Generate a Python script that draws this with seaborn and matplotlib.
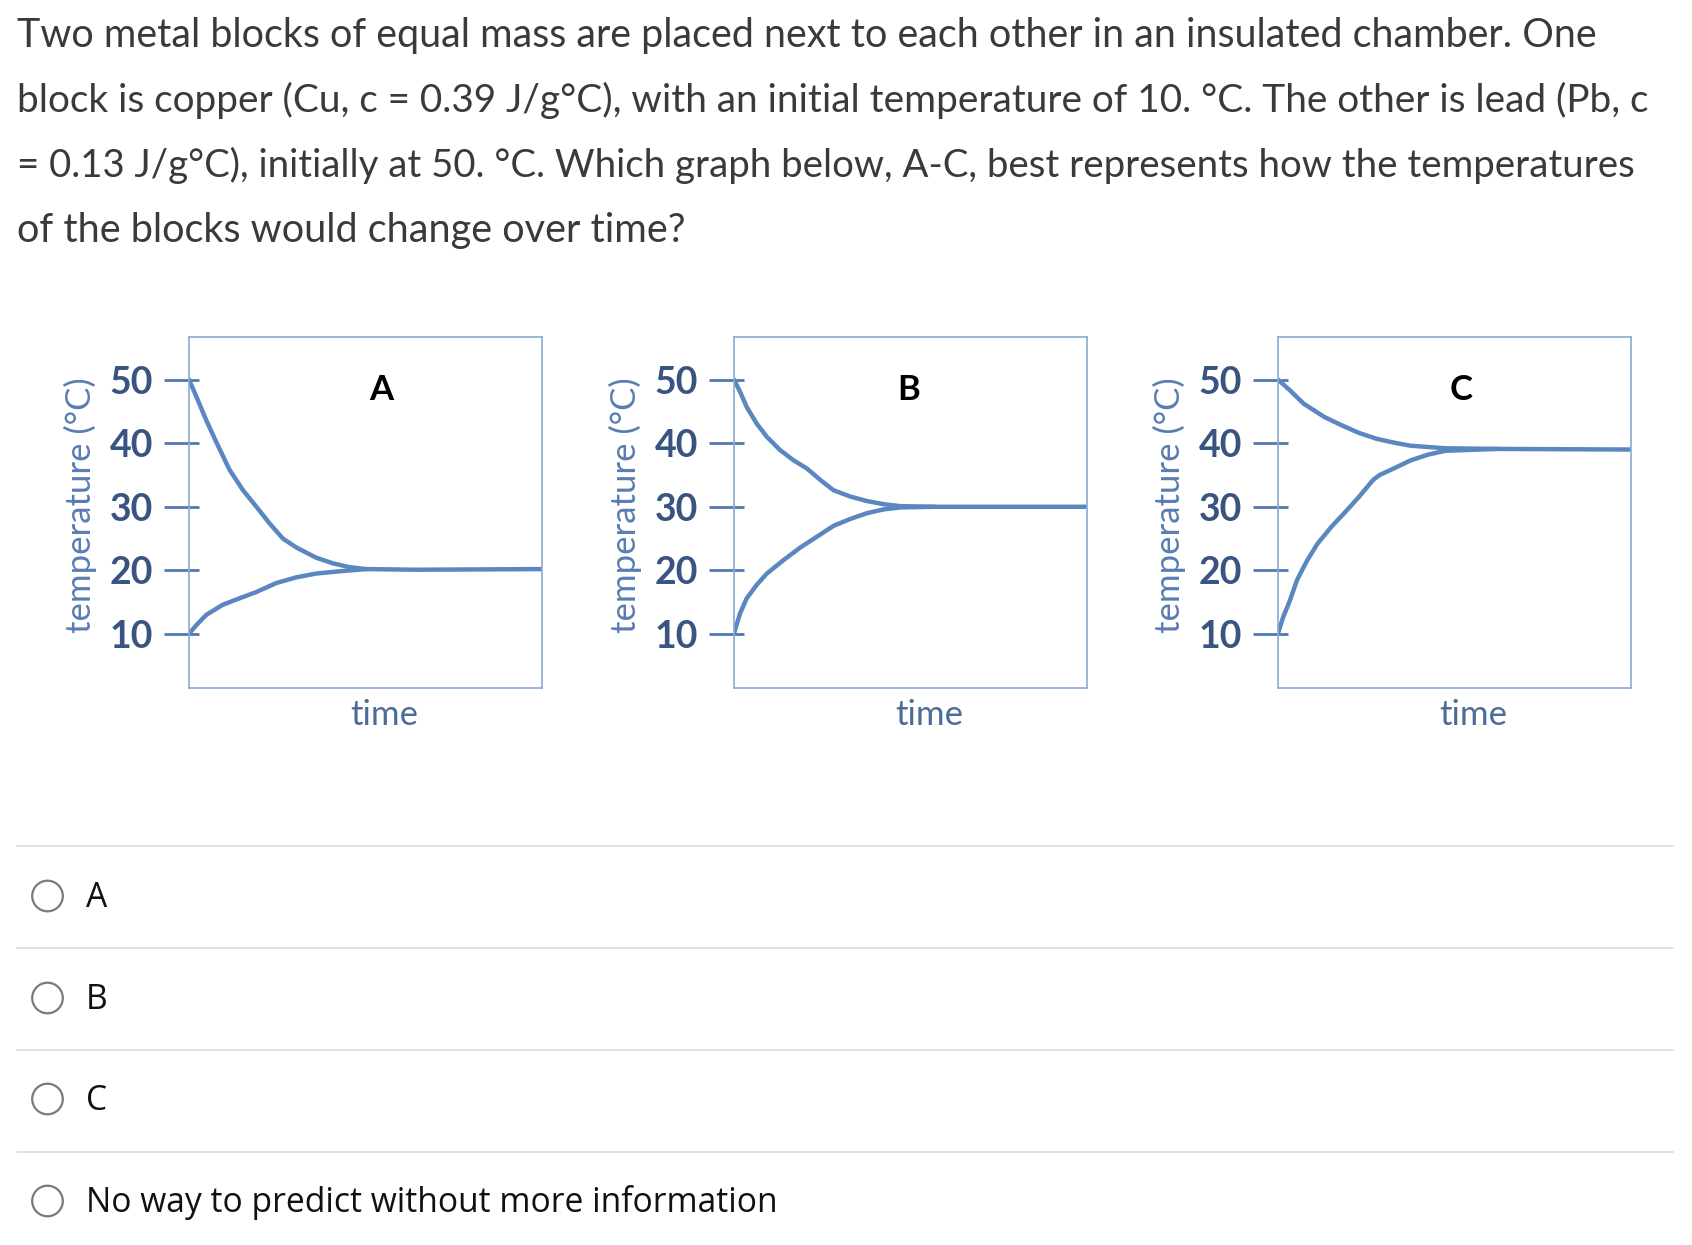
import numpy as np
import pandas as pd
import matplotlib
matplotlib.use("Agg")
import matplotlib.pyplot as plt
from matplotlib.patches import Circle
from matplotlib.ticker import FixedLocator
import seaborn as sns

# ---------------- data ----------------
question_lines = [
    "Two metal blocks of equal mass are placed next to each other in an insulated chamber. One",
    "block is copper (Cu, c = 0.39 J/g°C), with an initial temperature of 10. °C. The other is lead (Pb, c",
    "= 0.13 J/g°C), initially at 50. °C. Which graph below, A-C, best represents how the temperatures",
    "of the blocks would change over time?",
]
panel_labels = ["A", "B", "C"]
y_ticks = [10, 20, 30, 40, 50]
y_label = "temperature (°C)"
x_label = "time"
options = ["A", "B", "C", "No way to predict without more information"]

a_hot_t = [0, 0.021, 0.049, 0.077, 0.115, 0.153, 0.191, 0.228, 0.266, 0.304, 0.360, 0.408, 0.455, 0.502, 0.643, 1.0]
a_hot_y = [50, 47.3, 43.6, 40.2, 35.8, 32.6, 30.0, 27.4, 25.0, 23.6, 22.0, 21.1, 20.5, 20.2, 20.1, 20.2]
a_cold_t = [0, 0.021, 0.049, 0.096, 0.143, 0.191, 0.247, 0.304, 0.360, 0.436, 0.502]
a_cold_y = [10, 11.4, 13.0, 14.6, 15.6, 16.6, 18.0, 18.9, 19.5, 19.9, 20.2]

b_hot_t = [0, 0.017, 0.036, 0.064, 0.093, 0.131, 0.169, 0.207, 0.245, 0.282, 0.330, 0.377, 0.425, 0.472, 0.567, 1.0]
b_hot_y = [50, 48.1, 45.7, 43.1, 41.0, 38.9, 37.3, 36.0, 34.2, 32.6, 31.6, 30.9, 30.4, 30.1, 30.0, 30.0]
b_cold_t = [0, 0.017, 0.036, 0.064, 0.093, 0.140, 0.188, 0.235, 0.282, 0.330, 0.377, 0.425, 0.472, 0.567]
b_cold_y = [10.1, 13.2, 15.6, 17.7, 19.5, 21.6, 23.6, 25.3, 27.0, 28.1, 29.0, 29.6, 29.9, 30.0]

c_hot_t = [0, 0.034, 0.073, 0.132, 0.181, 0.230, 0.279, 0.327, 0.376, 0.425, 0.474, 0.621, 1.0]
c_hot_y = [50, 48.3, 46.2, 44.1, 42.8, 41.6, 40.7, 40.1, 39.6, 39.4, 39.2, 39.1, 39.0]
c_cold_t = [0, 0.015, 0.034, 0.054, 0.083, 0.112, 0.152, 0.191, 0.230, 0.269, 0.288, 0.327, 0.376, 0.425, 0.474, 0.621]
c_cold_y = [10.1, 12.7, 15.3, 18.5, 21.6, 24.2, 26.9, 29.2, 31.6, 34.2, 35.0, 36.0, 37.3, 38.2, 38.8, 39.1]

panels = [
    (a_hot_t, a_hot_y, a_cold_t, a_cold_y),
    (b_hot_t, b_hot_y, b_cold_t, b_cold_y),
    (c_hot_t, c_hot_y, c_cold_t, c_cold_y),
]

# ---------------- style ----------------
sns.set_style("white")
plt.rcParams["font.family"] = ["Lato", "DejaVu Sans"]

W, H = 1692, 1245
fig = plt.figure(figsize=(W / 100, H / 100), dpi=100)
fig.patch.set_facecolor("white")

LINE_C = "#5b87c0"
SPINE_C = "#8aaad4"
TICK_C = "#5279b0"
TICKLAB_C = "#3a5482"
YLAB_C = "#5a7db2"
XLAB_C = "#4d6b97"

ax_lefts = [189, 734, 1278]
ax_w, ax_top, ax_bot = 353, 337, 688
letter_x = [0.544, 0.496, 0.52]

for i, (ht, hy, ct, cy) in enumerate(panels):
    ax = fig.add_axes([ax_lefts[i] / W, 1 - ax_bot / H, ax_w / W, (ax_bot - ax_top) / H])
    df = pd.concat([
        pd.DataFrame({"time": ht, "temp": hy, "block": "hot"}),
        pd.DataFrame({"time": ct, "temp": cy, "block": "cold"}),
    ])
    sns.lineplot(data=df, x="time", y="temp", hue="block",
                 palette={"hot": LINE_C, "cold": LINE_C},
                 estimator=None, sort=False, legend=False, lw=3.2, ax=ax,
                 solid_capstyle="round", solid_joinstyle="round")
    ax.set_xlim(0, 1)
    ax.set_ylim(1.5, 56.7)
    ax.set_xticks([])
    ax.set_yticks(y_ticks)
    ax.yaxis.set_minor_locator(FixedLocator(y_ticks))
    ax.yaxis.remove_overlapping_locs = False
    ax.tick_params(axis="y", which="major", left=True, direction="out", length=18, width=2.0,
                   color=TICK_C, labelcolor=TICKLAB_C, labelsize=27, pad=8)
    ax.tick_params(axis="y", which="minor", left=True, direction="in", length=7.2, width=2.0,
                   color=TICK_C, labelleft=False)
    for lab in ax.get_yticklabels():
        lab.set_fontweight("bold")
    for s in ax.spines.values():
        s.set_visible(True)
        s.set_color(SPINE_C)
        s.set_linewidth(1.2)
    ax.set_ylabel(y_label, fontsize=25, color=YLAB_C)
    ax.yaxis.label.set_verticalalignment("center")
    ax.yaxis.set_label_coords(-0.307, 0.521)
    ax.set_xlabel(x_label, fontsize=25, color=XLAB_C)
    ax.xaxis.set_label_coords(0.554, -0.03)
    ax.xaxis.label.set_verticalalignment("top")
    ax.text(letter_x[i], 0.85, panel_labels[i], transform=ax.transAxes,
            ha="center", va="center", fontsize=25, fontweight="bold", color="black")

# ---------------- question text ----------------
q_texts = []
baselines = [47, 112, 177, 242]
line_ends = [1600, 1649, 1634, 686]
for line, yb in zip(question_lines, baselines):
    t = fig.text(17 / W, 1 - yb / H, line, ha="left", va="baseline",
                 fontsize=24, color="#3a3a3a", fontweight="normal",
                 family=["Lato", "DejaVu Sans"])
    q_texts.append(t)

fig.canvas.draw()
r = fig.canvas.get_renderer()
for t, xe in zip(q_texts, line_ends):
    bb = t.get_window_extent(r)
    t.set_fontsize(24 * (xe - 17) / bb.width)

# ---------------- options ----------------
ov = fig.add_axes([0, 0, 1, 1], zorder=-1)
ov.set_xlim(0, W)
ov.set_ylim(H, 0)
ov.axis("off")

sep_y = [846, 948, 1050, 1152]
for y in sep_y:
    ov.plot([17, 1673], [y, y], color="#dddddd", lw=1.3)

circ_y = [896, 998, 1099, 1201]
opt_texts = []
for lab, cyy in zip(options, circ_y):
    ov.add_patch(Circle((47.5, cyy), 15.3, fill=False, ec="#7a7a7a", lw=1.6))
    t = ov.text(86, cyy + 11, lab, ha="left", va="baseline", fontsize=24,
                color="#111111", family=["Open Sans", "DejaVu Sans"])
    opt_texts.append(t)

fig.canvas.draw()
bb = opt_texts[-1].get_window_extent(fig.canvas.get_renderer())
sc2 = (779 - 86) / bb.width
for t in opt_texts:
    t.set_fontsize(24 * sc2)

fig.savefig("out.png", dpi=100, facecolor="white")
